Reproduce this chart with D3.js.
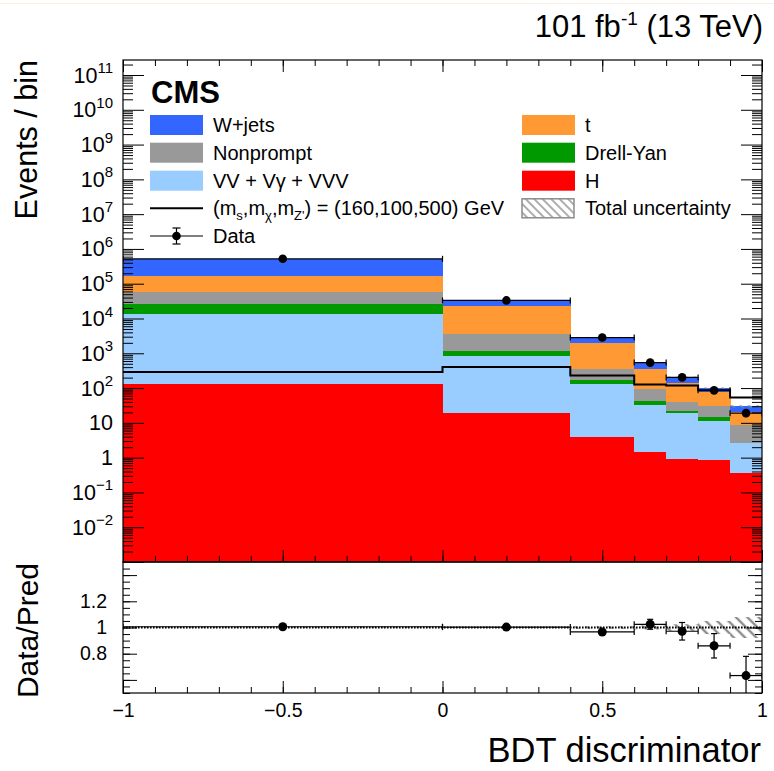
<!DOCTYPE html>
<html>
<head>
<meta charset="utf-8">
<script src="https://cdn.jsdelivr.net/npm/d3@7"></script>
<style>
  body { margin: 0; background: #fff; }
  svg { display: block; font-family: "Liberation Sans", Arial, Helvetica, sans-serif; }
</style>
</head>
<body>
<svg id="chart" width="774" height="771"></svg>
<script>
// BDT bins
const binEdges = [-1, 0, 0.4, 0.6, 0.7, 0.8, 0.9, 1.0];

// backgrounds, events per bin (stack order bottom -> top)
const higgs     = [132, 19.5, 4.0, 1.43, 0.92, 0.86, 0.36];
const diboson   = [12970, 840, 125, 31.6, 18.6, 10.6, 2.3];
const drellYan  = [12200, 310, 39, 10, 2.3, 3.5, 0.05];
const nonprompt = [33300, 2480, 197, 48, 18.2, 15, 5.9];
const topQuark  = [113400, 19650, 1615, 274, 101, 45, 12.2];
const wjets     = [345000, 9700, 950, 162, 68, 25, 9.2];

// signal (ms, mchi, mZ') = (160,100,500) GeV
const signal = [290, 405, 230, 126, 118, 87, 54];

// observed data
const data    = [520000, 33100, 2830, 540, 203, 86, 19];
const dataErr = [720, 180, 53, 20, 14, 9.3, 4.4];

// relative total uncertainty on prediction
const relUnc = [0.003, 0.004, 0.01, 0.015, 0.025, 0.05, 0.08];

const procKeys   = ["higgs", "diboson", "drellYan", "nonprompt", "topQuark", "wjets"];
const procValues = { higgs, diboson, drellYan, nonprompt, topQuark, wjets };
const procColors = {
  higgs: "#ff0000", diboson: "#99ccff", drellYan: "#009900",
  nonprompt: "#999999", topQuark: "#ff9933", wjets: "#3366ff"
};

const svg = d3.select("#chart");
const W = 774;

// panel geometry
const L = 123, R = 762;
const mainTop = 60, mainBot = 562, ratBot = 693;

const x  = d3.scaleLinear().domain([-1, 1]).range([L, R]);
const y  = d3.scaleLog().domain([1e-3, 2.7e11]).range([mainBot, mainTop]);
const yr = d3.scaleLinear().domain([0.5, 1.5]).range([ratBot, mainBot]);

svg.append("rect").attr("width", 774).attr("height", 771).attr("fill", "#fff");
svg.append("line").attr("x1", 0).attr("x2", W).attr("y1", 3.5).attr("y2", 3.5)
  .attr("stroke", "#fcefe2").attr("stroke-width", 1);

const defs = svg.append("defs");
defs.append("clipPath").attr("id", "clipMain").append("rect")
  .attr("x", L).attr("y", mainTop).attr("width", R - L).attr("height", mainBot - mainTop);
defs.append("clipPath").attr("id", "clipRat").append("rect")
  .attr("x", L).attr("y", mainBot).attr("width", R - L).attr("height", ratBot - mainBot);

function hatch(id, gap, sw) {
  const p = defs.append("pattern").attr("id", id).attr("patternUnits", "userSpaceOnUse")
    .attr("width", gap).attr("height", gap).attr("patternTransform", "rotate(-45)");
  p.append("line").attr("x1", gap / 2).attr("x2", gap / 2).attr("y1", 0).attr("y2", gap)
    .attr("stroke", "#8c8c8c").attr("stroke-width", sw);
}
hatch("hatchBig", 8, 2.4);
hatch("hatchSmall", 6, 1.4);

// stacked table
const rows = binEdges.slice(0, -1).map((e, i) => {
  const r = { x0: e, x1: binEdges[i + 1] };
  procKeys.forEach(k => r[k] = procValues[k][i]);
  return r;
});
const stacked = d3.stack().keys(procKeys)(rows);
const totals = rows.map(r => d3.sum(procKeys, k => r[k]));
const yMin = y.domain()[0];

const gMain = svg.append("g").attr("clip-path", "url(#clipMain)");
stacked.forEach(layer => {
  gMain.append("g").attr("shape-rendering", "crispEdges")
    .selectAll("rect").data(layer).join("rect")
    .attr("x", d => x(d.data.x0))
    .attr("width", d => x(d.data.x1) - x(d.data.x0) + 0.5)
    .attr("y", d => y(d[1]))
    .attr("height", d => y(Math.max(d[0], yMin)) - y(d[1]))
    .attr("fill", procColors[layer.key]);
});

// uncertainty band on stack
gMain.append("g").selectAll("rect").data(rows).join("rect")
  .attr("x", d => x(d.x0))
  .attr("width", d => x(d.x1) - x(d.x0))
  .attr("y", (d, i) => y(totals[i] * (1 + relUnc[i])))
  .attr("height", (d, i) => y(totals[i] * (1 - relUnc[i])) - y(totals[i] * (1 + relUnc[i])))
  .attr("fill", "url(#hatchSmall)");

// signal line
const sigPts = signal.map((v, i) => [binEdges[i], v]).concat([[1, signal[signal.length - 1]]]);
gMain.append("path")
  .datum(sigPts)
  .attr("d", d3.line().x(d => x(d[0])).y(d => y(d[1])).curve(d3.curveStepAfter))
  .attr("fill", "none").attr("stroke", "#000").attr("stroke-width", 2);

// data in main panel
const centers = rows.map(r => (r.x0 + r.x1) / 2);
const gData = gMain.append("g");
rows.forEach((r, i) => {
  const yy = y(data[i]);
  gData.append("line").attr("x1", x(r.x0)).attr("x2", x(r.x1)).attr("y1", yy).attr("y2", yy)
    .attr("stroke", "#000").attr("stroke-width", 1.2);
  [r.x0, r.x1].forEach(e => gData.append("line").attr("x1", x(e)).attr("x2", x(e))
    .attr("y1", yy - 3).attr("y2", yy + 3).attr("stroke", "#000").attr("stroke-width", 1.2));
  gData.append("line").attr("x1", x(centers[i])).attr("x2", x(centers[i]))
    .attr("y1", y(data[i] + dataErr[i])).attr("y2", y(data[i] - dataErr[i]))
    .attr("stroke", "#000").attr("stroke-width", 1.2);
  gData.append("circle").attr("cx", x(centers[i])).attr("cy", yy).attr("r", 4.3).attr("fill", "#000");
});

// ratio panel
const gRat = svg.append("g").attr("clip-path", "url(#clipRat)");
gRat.append("g").selectAll("rect").data(rows).join("rect")
  .attr("x", d => x(d.x0))
  .attr("width", d => x(d.x1) - x(d.x0))
  .attr("y", (d, i) => yr(1 + relUnc[i]))
  .attr("height", (d, i) => yr(1 - relUnc[i]) - yr(1 + relUnc[i]))
  .attr("fill", "url(#hatchBig)");
gRat.append("line").attr("x1", L).attr("x2", R).attr("y1", yr(1)).attr("y2", yr(1))
  .attr("stroke", "#000").attr("stroke-width", 1.8).attr("stroke-dasharray", "1.6,1.4");
rows.forEach((r, i) => {
  const ratio = data[i] / totals[i];
  const err = dataErr[i] / totals[i];
  const yy = yr(ratio), cx = x(centers[i]);
  gRat.append("line").attr("x1", x(r.x0)).attr("x2", x(r.x1)).attr("y1", yy).attr("y2", yy)
    .attr("stroke", "#000").attr("stroke-width", 1.2);
  [r.x0, r.x1].forEach(e => gRat.append("line").attr("x1", x(e)).attr("x2", x(e))
    .attr("y1", yy - 3).attr("y2", yy + 3).attr("stroke", "#000").attr("stroke-width", 1.2));
  gRat.append("line").attr("x1", cx).attr("x2", cx)
    .attr("y1", yr(ratio + err)).attr("y2", yr(ratio - err))
    .attr("stroke", "#000").attr("stroke-width", 1.2);
  [ratio + err, ratio - err].forEach(v => gRat.append("line").attr("x1", cx - 3).attr("x2", cx + 3)
    .attr("y1", yr(v)).attr("y2", yr(v)).attr("stroke", "#000").attr("stroke-width", 1.2));
  gRat.append("circle").attr("cx", cx).attr("cy", yy).attr("r", 4.5).attr("fill", "#000");
});

// axes / ticks
function styleAxis(g) {
  g.select(".domain").remove();
  g.selectAll(".tick line").attr("stroke", "#000").attr("stroke-width", 1);
  g.selectAll("text").attr("font-family", "Liberation Sans, Arial, sans-serif").attr("fill", "#000");
}
const decades = d3.range(-3, 12).map(p => Math.pow(10, p));
const minorLog = [];
d3.range(-3, 12).forEach(p => d3.range(2, 10).forEach(k => {
  const v = k * Math.pow(10, p);
  if (v < y.domain()[1]) minorLog.push(v);
}));
[[d3.axisLeft, L], [d3.axisRight, R]].forEach(([ax, px]) => {
  svg.append("g").attr("transform", `translate(${px},0)`)
    .call(ax(y).tickValues(decades).tickSize(-21).tickFormat("")).call(styleAxis);
  svg.append("g").attr("transform", `translate(${px},0)`)
    .call(ax(y).tickValues(minorLog).tickSize(-10).tickFormat("")).call(styleAxis);
});

const xMajor = [-1, -0.5, 0, 0.5, 1];
const xMinor = d3.range(-10, 11).map(i => i / 10);
// main panel top and bottom
svg.append("g").attr("transform", `translate(0,${mainBot})`)
  .call(d3.axisBottom(x).tickValues(xMajor).tickSize(-12).tickFormat("")).call(styleAxis);
svg.append("g").attr("transform", `translate(0,${mainBot})`)
  .call(d3.axisBottom(x).tickValues(xMinor).tickSize(-6).tickFormat("")).call(styleAxis);
svg.append("g").attr("transform", `translate(0,${mainTop})`)
  .call(d3.axisTop(x).tickValues(xMajor).tickSize(-12).tickFormat("")).call(styleAxis);
svg.append("g").attr("transform", `translate(0,${mainTop})`)
  .call(d3.axisTop(x).tickValues(xMinor).tickSize(-6).tickFormat("")).call(styleAxis);
// ratio bottom with labels
svg.append("g").attr("transform", `translate(0,${ratBot})`)
  .call(d3.axisBottom(x).tickValues(xMinor).tickSize(-6).tickFormat("")).call(styleAxis);
svg.append("g").attr("transform", `translate(0,${ratBot})`)
  .call(d3.axisBottom(x).tickValues(xMajor).tickSize(-12).tickPadding(10)
    .tickFormat(d => d === 0 ? "0" : d3.format("~g")(d)))
  .call(styleAxis)
  .call(g => g.selectAll("text").attr("font-size", 19.5));

// ratio y ticks
const rMajor = [0.6, 0.8, 1, 1.2, 1.4];
const rMinor = d3.range(10, 31).map(i => i * 0.05);
[[d3.axisLeft, L], [d3.axisRight, R]].forEach(([ax, px]) => {
  svg.append("g").attr("transform", `translate(${px},0)`)
    .call(ax(yr).tickValues(rMajor).tickSize(-14).tickFormat("")).call(styleAxis);
  svg.append("g").attr("transform", `translate(${px},0)`)
    .call(ax(yr).tickValues(rMinor).tickSize(-7).tickFormat("")).call(styleAxis);
});
svg.append("g").attr("transform", `translate(${L},0)`)
  .call(d3.axisLeft(yr).tickValues([0.8, 1, 1.2]).tickSize(0).tickPadding(16)
    .tickFormat(d3.format("~g")))
  .call(styleAxis)
  .call(g => g.selectAll("text").attr("font-size", 19.5));

// log y labels with superscripts
const yLabels = d3.range(-2, 12);
yLabels.forEach(p => {
  const t = svg.append("text").attr("x", 113).attr("y", y(Math.pow(10, p)) + 7.5)
    .attr("text-anchor", "end").attr("font-size", 21.5);
  if (p === 0) { t.text("1"); return; }
  if (p === 1) { t.text("10"); return; }
  t.append("tspan").text("10");
  t.append("tspan").attr("dy", -9.5).attr("font-size", 15).text(p < 0 ? "\u2212" + (-p) : p);
});

// frames
svg.append("rect").attr("x", L).attr("y", mainTop).attr("width", R - L).attr("height", mainBot - mainTop)
  .attr("fill", "none").attr("stroke", "#000").attr("stroke-width", 1.2);
svg.append("rect").attr("x", L).attr("y", mainBot).attr("width", R - L).attr("height", ratBot - mainBot)
  .attr("fill", "none").attr("stroke", "#000").attr("stroke-width", 1.2);

// titles
svg.append("text").attr("transform", "translate(37,60) rotate(-90)")
  .attr("text-anchor", "end").attr("font-size", 30.5).text("Events / bin");
svg.append("text").attr("transform", "translate(38,563) rotate(-90)")
  .attr("text-anchor", "end").attr("font-size", 30).text("Data/Pred");
svg.append("text").attr("x", 761).attr("y", 762).attr("text-anchor", "end")
  .attr("font-size", 34.5).text("BDT discriminator");
const lumi = svg.append("text").attr("x", 763).attr("y", 37).attr("text-anchor", "end").attr("font-size", 31);
lumi.append("tspan").text("101 fb");
lumi.append("tspan").attr("dy", -12).attr("font-size", 19).text("-1");
lumi.append("tspan").attr("dy", 12).text(" (13 TeV)");
svg.append("text").attr("x", 151).attr("y", 103).attr("font-size", 31).attr("font-weight", "bold").text("CMS");

// legend
const legRowY = [125, 152.7, 180.7, 208.3, 236];
const legLeft = [
  { label: "W+jets", key: "wjets" },
  { label: "Nonprompt", key: "nonprompt" },
  { label: "VV + V\u03b3 + VVV", key: "diboson" }
];
const legRight = [
  { label: "t", key: "topQuark" },
  { label: "Drell-Yan", key: "drellYan" },
  { label: "H", key: "higgs" }
];
const leg = svg.append("g").attr("font-size", 20);
legLeft.forEach((d, i) => {
  leg.append("rect").attr("x", 150).attr("y", legRowY[i] - 10).attr("width", 53).attr("height", 20)
    .attr("fill", procColors[d.key]);
  leg.append("text").attr("x", 213).attr("y", legRowY[i] + 7).text(d.label);
});
legRight.forEach((d, i) => {
  leg.append("rect").attr("x", 522).attr("y", legRowY[i] - 10).attr("width", 53).attr("height", 20)
    .attr("fill", procColors[d.key]);
  leg.append("text").attr("x", 585).attr("y", legRowY[i] + 7).text(d.label);
});
leg.append("rect").attr("x", 522).attr("y", legRowY[3] - 9.5).attr("width", 52).attr("height", 19)
  .attr("fill", "url(#hatchSmall)").attr("stroke", "#8c8c8c").attr("stroke-width", 1.5);
leg.append("text").attr("x", 585).attr("y", legRowY[3] + 7).text("Total uncertainty");

// signal legend
leg.append("line").attr("x1", 150).attr("x2", 203).attr("y1", legRowY[3]).attr("y2", legRowY[3])
  .attr("stroke", "#000").attr("stroke-width", 2);
const sl = leg.append("text").attr("x", 213).attr("y", legRowY[3] + 7);
sl.append("tspan").text("(m");
sl.append("tspan").attr("dy", 5).attr("font-size", 13).text("s");
sl.append("tspan").attr("dy", -5).text(",m");
sl.append("tspan").attr("dy", 5).attr("font-size", 13).text("\u03c7");
sl.append("tspan").attr("dy", -5).text(",m");
sl.append("tspan").attr("dy", 5).attr("font-size", 13).text("Z'");
sl.append("tspan").attr("dy", -5).text(") = (160,100,500) GeV");

// data legend
leg.append("line").attr("x1", 150).attr("x2", 203).attr("y1", legRowY[4]).attr("y2", legRowY[4])
  .attr("stroke", "#000").attr("stroke-width", 1.2);
leg.append("line").attr("x1", 176.5).attr("x2", 176.5).attr("y1", legRowY[4] - 8).attr("y2", legRowY[4] + 8)
  .attr("stroke", "#000").attr("stroke-width", 1.2);
[-8, 8].forEach(o => leg.append("line").attr("x1", 172.5).attr("x2", 180.5)
  .attr("y1", legRowY[4] + o).attr("y2", legRowY[4] + o).attr("stroke", "#000").attr("stroke-width", 1.2));
leg.append("circle").attr("cx", 176.5).attr("cy", legRowY[4]).attr("r", 4.3).attr("fill", "#000");
leg.append("text").attr("x", 213).attr("y", legRowY[4] + 7).text("Data");
</script>
</body>
</html>
